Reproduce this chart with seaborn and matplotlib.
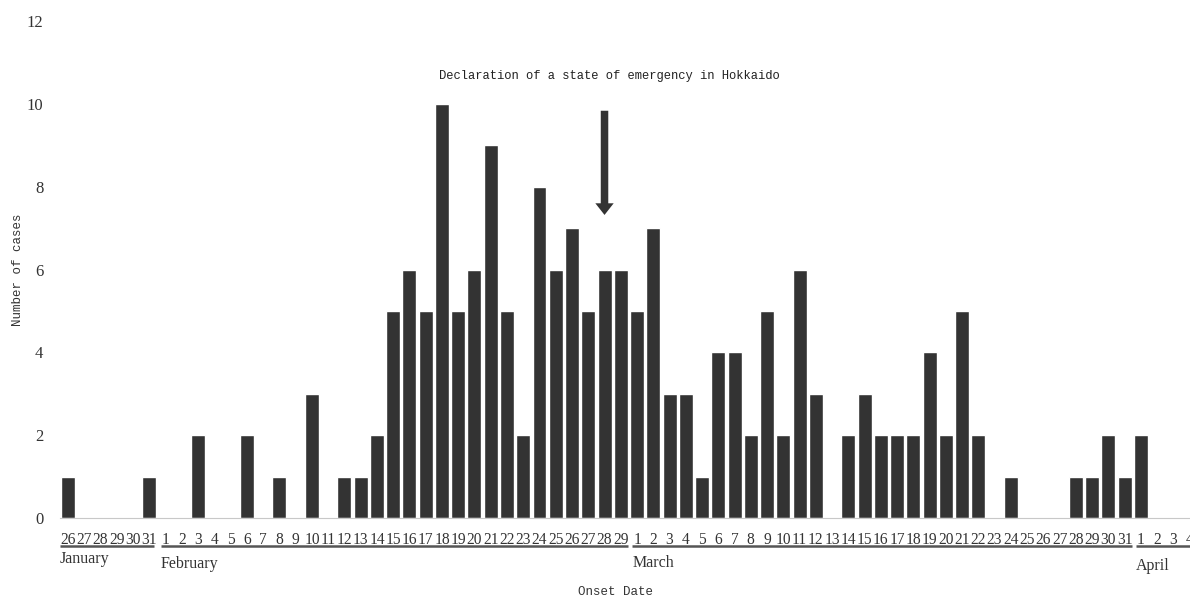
import numpy as np
import pandas as pd
import matplotlib.pyplot as plt
import matplotlib.transforms as mtransforms
from matplotlib.patches import FancyArrowPatch
import seaborn as sns

# daily onset counts, Jan 26 - Apr 4
months = ["January", "February", "March", "April"]
month_days = [list(range(26, 32)), list(range(1, 30)), list(range(1, 32)), list(range(1, 5))]
jan = [1, 0, 0, 0, 0, 1]
feb = [0, 0, 2, 0, 0, 2, 0, 1, 0, 3, 0, 1, 1, 2, 5, 6, 5, 10, 5, 6,
       9, 5, 2, 8, 6, 7, 5, 6, 6]
mar = [5, 7, 3, 3, 1, 4, 4, 2, 5, 2, 6, 3, 0, 2, 3, 2, 2, 2, 4, 2,
       5, 2, 0, 1, 0, 0, 0, 1, 1, 2, 1]
apr = [2, 0, 0, 0]
counts = jan + feb + mar + apr

month_nums = [1, 2, 3, 4]
dates = [f"{m:02d}-{d:02d}" for m, days in zip(month_nums, month_days) for d in days]
day_labels = [str(d) for days in month_days for d in days]
df = pd.DataFrame({"date": dates, "cases": counts})

event_date = "02-28"
event_label = "Declaration of a state of emergency in Hokkaido"

sns.set_style("white")
serif = "Liberation Serif"
mono = "Liberation Mono"

fig = plt.figure(figsize=(11.9, 5.97), dpi=100)
ax = fig.add_axes([60 / 1190, 1 - 518 / 597, 1 - 60 / 1190, (518 - 21) / 597])

sns.barplot(data=df, x="date", y="cases", order=dates, color="#333333",
            saturation=1, width=0.86, ax=ax)

ax.set_yticks(range(0, 13, 2))
ax.set_yticklabels([str(v) for v in range(0, 13, 2)], fontfamily=serif,
                   fontsize=12, color="#333333")

n = len(dates)
ax.set_xticks(np.arange(-0.5, n, 1.0))
ax.set_xticklabels([])
ax.set_xticks(np.arange(n), minor=True)
ax.set_xticklabels(day_labels, minor=True, fontfamily=serif, fontsize=11.2,
                   color="#333333")
ax.tick_params(axis="x", which="major", length=5, color="#c8c8c8", width=1)
ax.tick_params(axis="x", which="minor", length=0, pad=10)
ax.tick_params(axis="y", length=0, pad=12)
# limits after ticks, so set_xticks does not widen them
ax.set_xlim(-0.5, 69.02)
ax.set_ylim(0, 12)

for s in ["top", "right", "left"]:
    ax.spines[s].set_visible(False)
ax.spines["bottom"].set_color("#c8c8c8")

ax.set_xlabel("")
ax.set_ylabel("")
fig.text(615 / 1190, 1 - 592 / 597, "Onset Date", fontfamily=mono, fontsize=9,
         color="#333333", ha="center", va="center")
fig.text(18 / 1190, 1 - 270 / 597, "Number of cases", fontfamily=mono, fontsize=9,
         color="#333333", ha="center", va="center", rotation=90)

# month underlines and names
trans = mtransforms.blended_transform_factory(ax.transData, ax.transAxes)
idx = 0
month_spans = []
for m, days in zip(months, month_days):
    month_spans.append((m, idx, idx + len(days)))
    idx += len(days)
line_y = -28 / 497
offsets = {"January": -33 / 497, "February": -38 / 497, "March": -37 / 497, "April": -40 / 497}
for m, start, end in month_spans:
    x0 = start - 0.5 + (0.2 if start > 0 else 0)
    x1 = end - 0.5 - (0.2 if m == "January" else 0.05)
    ax.plot([x0, x1], [line_y, line_y], transform=trans, color="#555555",
            lw=1.8, clip_on=False, solid_capstyle="butt")
    ax.text(x0, offsets[m], m, transform=trans, fontfamily=serif, fontsize=11.5,
            color="#333333", ha="left", va="top")

# event arrow
ex = dates.index(event_date)
arrow = FancyArrowPatch((ex, 9.9), (ex, 7.25),
                        arrowstyle="simple,head_length=0.7,head_width=1.1,tail_width=0.45",
                        mutation_scale=12, color="#333333", lw=0)
ax.add_patch(arrow)
ax.text(ex + 0.3, 10.67, event_label, fontfamily=mono, fontsize=8.7,
        color="#222222", ha="center", va="center")

fig.savefig("out.png", dpi=100)
